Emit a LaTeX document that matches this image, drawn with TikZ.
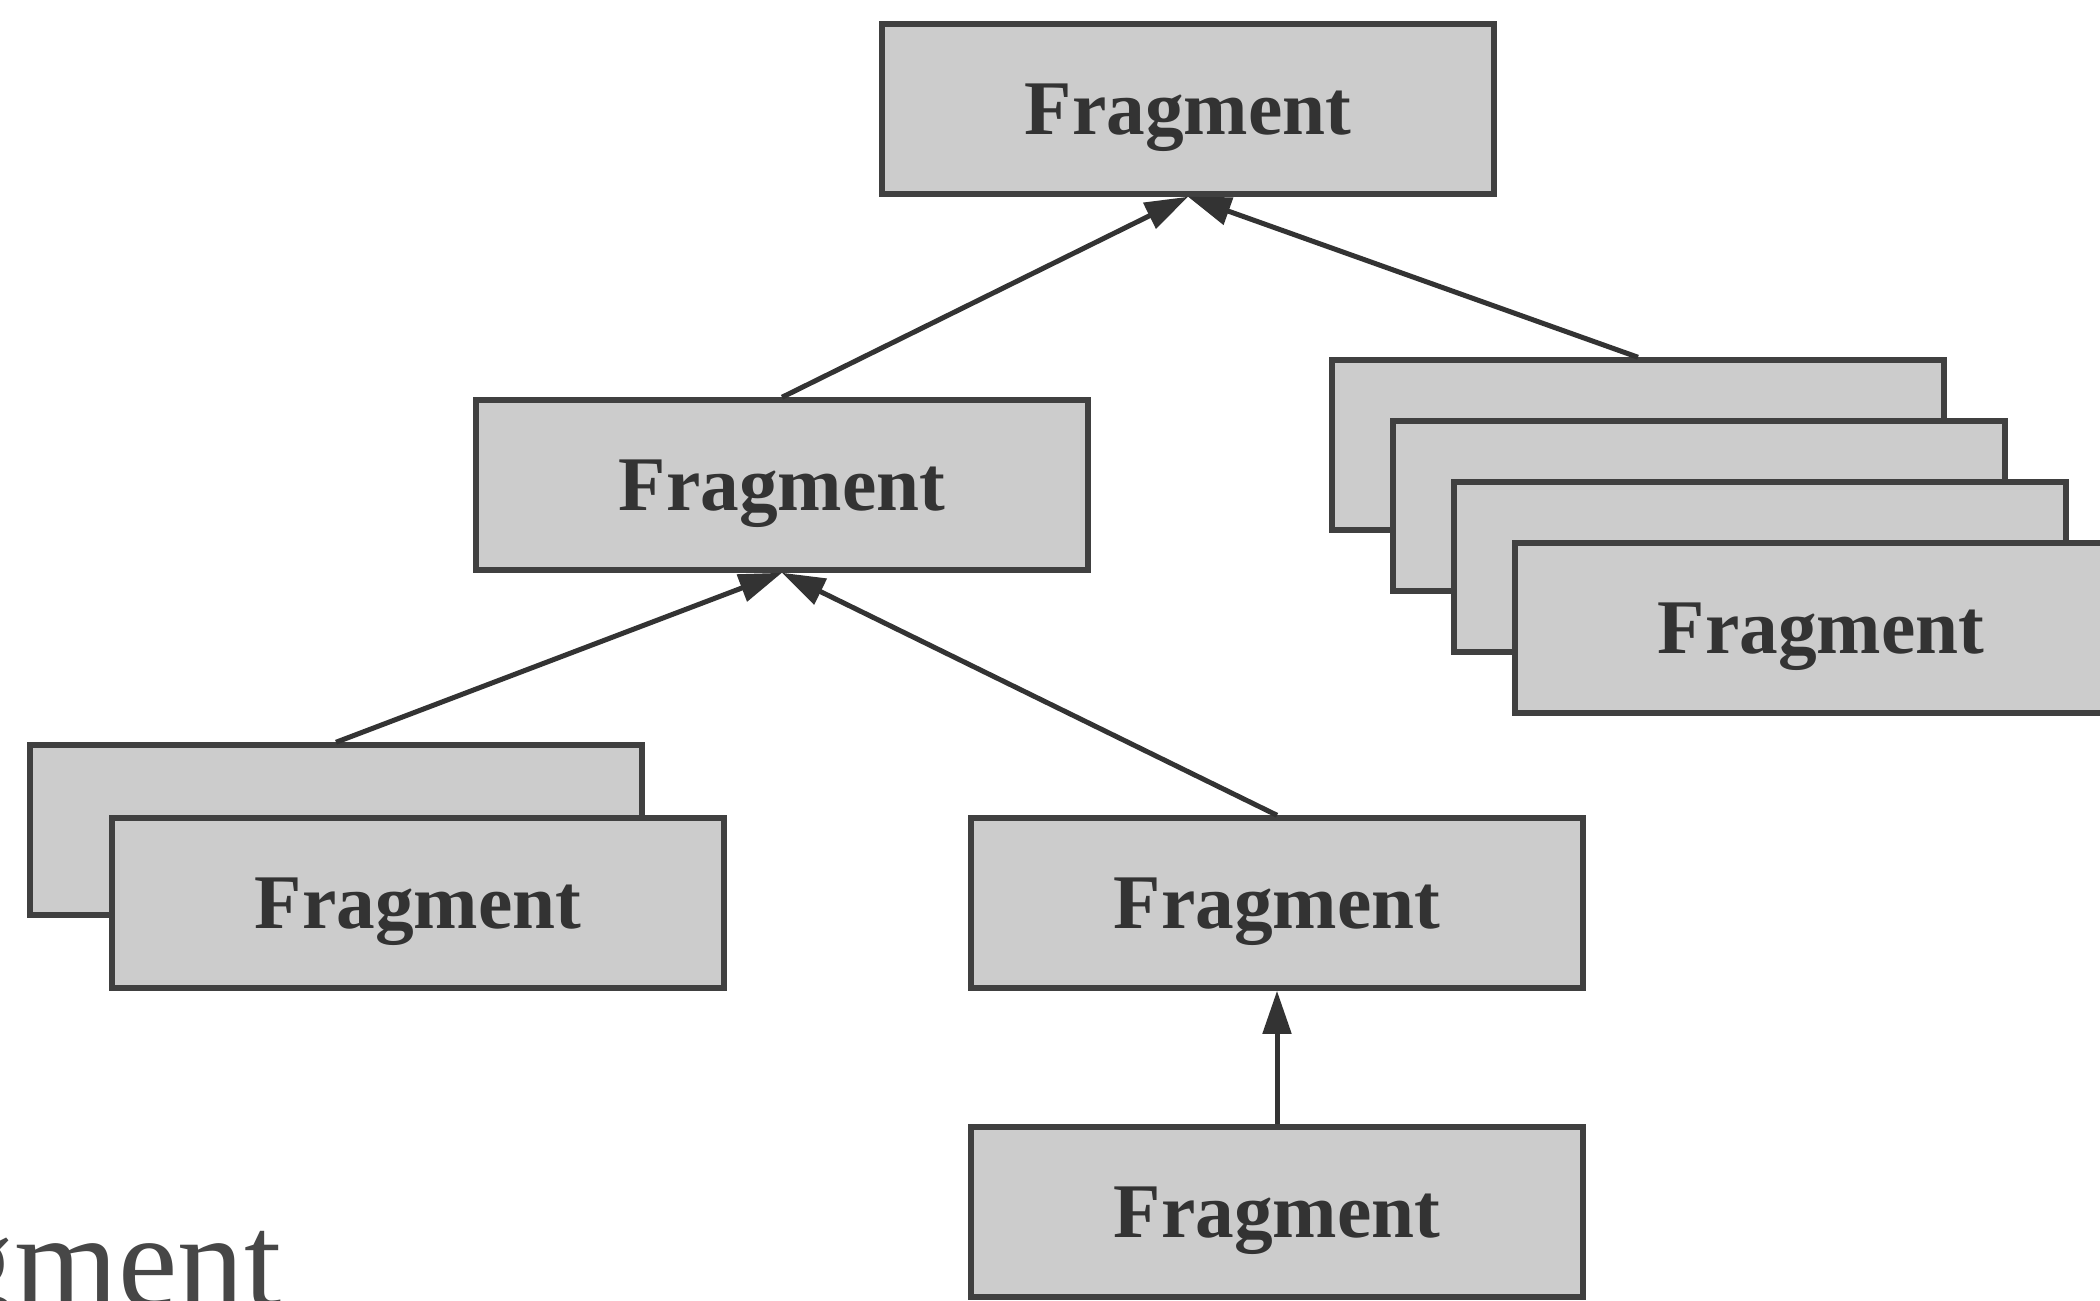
\documentclass[tikz,border=0pt]{standalone}
\usepackage{fontspec}
\setmainfont{Liberation Serif}
\usetikzlibrary{arrows.meta}
\definecolor{boxfill}{HTML}{CCCCCC}
\definecolor{boxline}{HTML}{404040}
\definecolor{ink}{HTML}{333333}
\definecolor{captiongray}{HTML}{474747}
\begin{document}
\begin{tikzpicture}[x=0.1mm,y=-0.1mm,
  frag/.style={draw=boxline, fill=boxfill, line width=0.55mm,
    minimum width=61.2mm, minimum height=17.0mm, inner sep=0pt,
    font=\fontsize{22}{26}\selectfont\bfseries, text=ink,
    text height=14.5pt, text depth=0pt},
  link/.style={draw=ink, line width=0.5mm,
    -{Triangle[length=4.3mm,width=2.8mm]}}]
\useasboundingbox (0,0) rectangle (2100,1300);
\fill[white] (0,0) rectangle (2100,1300);

% root
\node[frag] (root) at (1188,109) {Fragment};
% second level
\node[frag] (mid) at (782,485) {Fragment};
% stack of siblings on the right (back to front)
\node[frag] (r1) at (1638,445) {};
\node[frag] (r2) at (1699,506) {};
\node[frag] (r3) at (1760,567) {};
\node[frag] (r4) at (1821,628) {Fragment};
% stack of two on the left
\node[frag] (l1) at (336,830) {};
\node[frag] (l2) at (418,903) {Fragment};
% chain below the middle
\node[frag] (mb) at (1277,903) {Fragment};
\node[frag] (bot) at (1277,1212) {Fragment};

% large caption, running off the left edge
\node[anchor=base east, inner sep=0pt, text=captiongray,
  font=\fontsize{38}{42}\selectfont] (caption) at (282,1306) {Fragment};

% connectors
\draw[link] (mid.north) -- (root.south);
\draw[link] (r1.north) -- (root.south);
\draw[link] (l1.north) -- (mid.south);
\draw[link] (mb.north) -- (mid.south);
\draw[link] (bot.north) -- (mb.south);
\end{tikzpicture}
\end{document}
